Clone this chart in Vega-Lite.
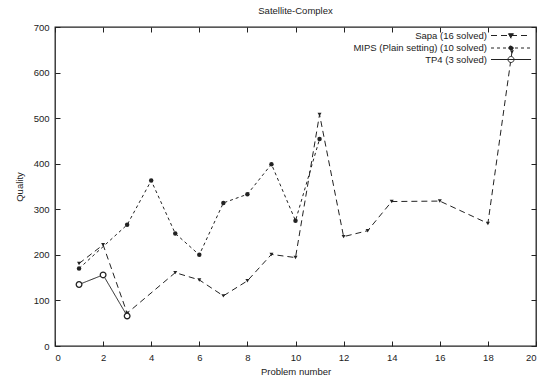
{
  "$schema": "https://vega.github.io/schema/vega-lite/v6.json",
  "width": 481,
  "height": 319,
  "autosize": {"type": "none"},
  "padding": {"left": 55, "top": 27, "right": 9, "bottom": 37},
  "background": "white",
  "title": {"text": "Satellite-Complex", "fontSize": 9.5, "fontWeight": "normal", "font": "Liberation Sans", "color": "#222", "offset": 7, "anchor": "middle"},
  "config": {
    "font": "Liberation Sans",
    "view": {"stroke": "#222", "strokeWidth": 1.3},
    "axis": {"domain": false, "grid": false, "tickColor": "#222", "tickSize": -5, "tickWidth": 1, "labelFontSize": 9.5, "labelColor": "#222", "labelPadding": 11, "titleFontSize": 9.5, "titleFontWeight": "normal", "titleColor": "#222", "labelFont": "Liberation Sans", "titleFont": "Liberation Sans"}
  },
  "data": {
    "values": [
      {"series": "Sapa (16 solved)", "x": 1, "y": 181},
      {"series": "Sapa (16 solved)", "x": 2, "y": 222},
      {"series": "Sapa (16 solved)", "x": 3, "y": 72},
      {"series": "Sapa (16 solved)", "x": 5, "y": 161},
      {"series": "Sapa (16 solved)", "x": 6, "y": 145},
      {"series": "Sapa (16 solved)", "x": 7, "y": 110},
      {"series": "Sapa (16 solved)", "x": 8, "y": 143},
      {"series": "Sapa (16 solved)", "x": 9, "y": 201},
      {"series": "Sapa (16 solved)", "x": 10, "y": 194},
      {"series": "Sapa (16 solved)", "x": 11, "y": 508},
      {"series": "Sapa (16 solved)", "x": 12, "y": 240},
      {"series": "Sapa (16 solved)", "x": 13, "y": 253},
      {"series": "Sapa (16 solved)", "x": 14, "y": 317},
      {"series": "Sapa (16 solved)", "x": 16, "y": 318},
      {"series": "Sapa (16 solved)", "x": 18, "y": 269},
      {"series": "Sapa (16 solved)", "x": 19, "y": 645},
      {"series": "MIPS (Plain setting) (10 solved)", "x": 1, "y": 170},
      {"series": "MIPS (Plain setting) (10 solved)", "x": 3, "y": 266},
      {"series": "MIPS (Plain setting) (10 solved)", "x": 4, "y": 363},
      {"series": "MIPS (Plain setting) (10 solved)", "x": 5, "y": 247},
      {"series": "MIPS (Plain setting) (10 solved)", "x": 6, "y": 200},
      {"series": "MIPS (Plain setting) (10 solved)", "x": 7, "y": 314},
      {"series": "MIPS (Plain setting) (10 solved)", "x": 8, "y": 333},
      {"series": "MIPS (Plain setting) (10 solved)", "x": 9, "y": 399},
      {"series": "MIPS (Plain setting) (10 solved)", "x": 10, "y": 275},
      {"series": "MIPS (Plain setting) (10 solved)", "x": 11, "y": 454},
      {"series": "TP4 (3 solved)", "x": 1, "y": 135},
      {"series": "TP4 (3 solved)", "x": 2, "y": 156},
      {"series": "TP4 (3 solved)", "x": 3, "y": 66}
    ]
  },
  "layer": [
    {
      "mark": {"type": "line", "color": "#222", "strokeWidth": 1},
      "encoding": {
        "x": {"field": "x", "type": "quantitative", "scale": {"domain": [0, 20], "nice": false},
              "axis": {"orient": "bottom", "values": [0, 2, 4, 6, 8, 10, 12, 14, 16, 18, 20], "title": "Problem number", "titlePadding": 5}},
        "y": {"field": "y", "type": "quantitative", "scale": {"domain": [0, 700], "nice": false},
              "axis": {"orient": "left", "values": [0, 100, 200, 300, 400, 500, 600, 700], "title": "Quality", "titlePadding": 9}},
        "strokeDash": {
          "field": "series", "type": "nominal",
          "scale": {"domain": ["Sapa (16 solved)", "MIPS (Plain setting) (10 solved)", "TP4 (3 solved)"], "range": [[6, 4], [3, 3], [1, 0]]},
          "legend": {
            "orient": "top-right", "title": null, "offset": 3, "padding": 0,
            "symbolType": "M-4,0L4,0", "symbolSize": 100, "symbolStrokeWidth": 1,
            "symbolStrokeColor": "#222", "symbolFillColor": "#222",
            "rowPadding": 1.5,
            "labelAlign": "right", "labelOffset": 156,
            "labelFontSize": 9.5, "labelFont": "Liberation Sans", "labelColor": "#222", "labelLimit": 300,
            "encode": {
              "symbols": {
                "update": {
                  "x": {"value": 191},
                  "shape": {"signal": "datum.value === 'Sapa (16 solved)' ? 'M-4,0L4,0M-0.5,-0.35L0.5,-0.35L0,0.55Z' : datum.value === 'TP4 (3 solved)' ? 'M-4,0L4,0M-0.6,0A0.6,0.6,0,1,1,0.6,0A0.6,0.6,0,1,1,-0.6,0Z' : 'M-4,0L4,0M-0.44,0A0.44,0.44,0,1,1,0.44,0A0.44,0.44,0,1,1,-0.44,0Z'"},
                  "fill": {"signal": "datum.value === 'TP4 (3 solved)' ? 'white' : '#222'"},
                  "stroke": {"value": "#222"}
                }
              }
            }
          }
        }
      }
    },
    {
      "transform": [{"filter": "datum.series === 'Sapa (16 solved)'"}],
      "mark": {"type": "point", "shape": "triangle-down", "filled": true, "color": "#222", "size": 16, "opacity": 1},
      "encoding": {
        "x": {"field": "x", "type": "quantitative", "scale": {"domain": [0, 20], "nice": false},
              "axis": {"orient": "top", "values": [0, 2, 4, 6, 8, 10, 12, 14, 16, 18, 20], "labels": false, "title": null}},
        "y": {"field": "y", "type": "quantitative", "scale": {"domain": [0, 700], "nice": false},
              "axis": {"orient": "right", "values": [0, 100, 200, 300, 400, 500, 600, 700], "labels": false, "title": null}}
      }
    },
    {
      "transform": [{"filter": "datum.series === 'MIPS (Plain setting) (10 solved)'"}],
      "mark": {"type": "point", "shape": "circle", "filled": true, "color": "#222", "size": 20, "opacity": 1},
      "encoding": {
        "x": {"field": "x", "type": "quantitative", "axis": null},
        "y": {"field": "y", "type": "quantitative", "axis": null}
      }
    },
    {
      "transform": [{"filter": "datum.series === 'TP4 (3 solved)'"}],
      "mark": {"type": "point", "shape": "circle", "filled": false, "fill": "white", "stroke": "#222", "strokeWidth": 1.3, "size": 32, "opacity": 1},
      "encoding": {
        "x": {"field": "x", "type": "quantitative", "axis": null},
        "y": {"field": "y", "type": "quantitative", "axis": null}
      }
    }
  ]
}
